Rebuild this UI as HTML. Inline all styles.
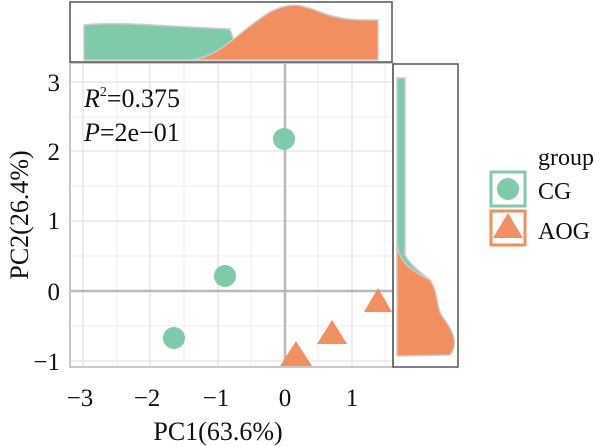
<!DOCTYPE html>
<html><head><meta charset="utf-8"><style>body{margin:0;background:#fff}svg{display:block}text{font-family:"Liberation Serif",serif;fill:#111}</style></head><body>
<svg width="609" height="446" viewBox="0 0 609 446">
<g stroke="#ececf2" stroke-width="1">
<line x1="117" y1="63" x2="117" y2="367"/><line x1="184" y1="63" x2="184" y2="367"/><line x1="251" y1="63" x2="251" y2="367"/><line x1="318" y1="63" x2="318" y2="367"/><line x1="385" y1="63" x2="385" y2="367"/>
<line x1="70" y1="117" x2="393" y2="117"/><line x1="70" y1="186" x2="393" y2="186"/><line x1="70" y1="256" x2="393" y2="256"/><line x1="70" y1="326" x2="393" y2="326"/>
</g>
<g stroke="#e2e2e8" stroke-width="1.3">
<line x1="83" y1="63" x2="83" y2="367"/><line x1="150" y1="63" x2="150" y2="367"/><line x1="218" y1="63" x2="218" y2="367"/><line x1="352" y1="63" x2="352" y2="367"/>
<line x1="70" y1="82" x2="393" y2="82"/><line x1="70" y1="151" x2="393" y2="151"/><line x1="70" y1="221" x2="393" y2="221"/><line x1="70" y1="361" x2="393" y2="361"/>
</g>
<line x1="285" y1="63" x2="285" y2="367" stroke="#b8b8b8" stroke-width="2.5"/>
<line x1="70" y1="291" x2="393" y2="291" stroke="#b8b8b8" stroke-width="2.5"/>
<rect x="70" y="63" width="323" height="304" fill="none" stroke="#c8c8c8" stroke-width="2"/>
<g fill="#7fcaa9"><circle cx="284" cy="139" r="11"/><circle cx="225" cy="276" r="11"/><circle cx="174" cy="338" r="11"/></g>
<g fill="#f28f60"><polygon points="296,341 312,366 280,366"/><polygon points="332,320 347,344 317,344"/><polygon points="378,288 392,312 364,312"/></g>
<text x="84" y="107" font-size="26"><tspan font-style="italic">R</tspan><tspan font-size="14" dy="-11">2</tspan><tspan dy="11">=0.375</tspan></text>
<text x="84" y="141" font-size="26"><tspan font-style="italic">P</tspan>=2e−01</text>
<g font-size="25" text-anchor="end"><text x="60" y="91">3</text><text x="60" y="160">2</text><text x="60" y="229">1</text><text x="60" y="300">0</text><text x="60" y="370">−1</text></g>
<g font-size="25" text-anchor="middle"><text x="80" y="406">−3</text><text x="147" y="406">−2</text><text x="216" y="406">−1</text><text x="285" y="406">0</text><text x="352" y="406">1</text></g>
<text x="218" y="440" font-size="26" text-anchor="middle">PC1(63.6%)</text>
<text transform="translate(28,215) rotate(-90)" font-size="26" text-anchor="middle">PC2(26.4%)</text>
<path d="M84,60 L84,25 C120,21 170,27 230,29 L240,60 Z" fill="#7fcaa9" stroke="#ccc" stroke-width="1.5"/>
<path d="M190,60 C220,58 240,30 270,12 C290,2 300,4 320,12 C340,20 355,20 378,20 L378,60 Z" fill="#f28f60" stroke="#ccc" stroke-width="1.5"/>
<rect x="70" y="2" width="322" height="60" fill="none" stroke="#555" stroke-width="1.5"/>
<path d="M397,78 L405,78 L405,255 C410,265 420,272 430,280 L397,280 Z" fill="#7fcaa9" stroke="#ccc" stroke-width="1.5"/>
<path d="M397,245 C400,265 415,272 430,280 C440,295 435,310 445,320 C455,335 458,345 450,355 L397,356 Z" fill="#f28f60" stroke="#ccc" stroke-width="1.5"/>
<rect x="393" y="64" width="65" height="303" fill="none" stroke="#555" stroke-width="1.5"/>
<rect x="491" y="172" width="34" height="34" fill="#fff" stroke="#7fcaa9" stroke-width="3"/>
<circle cx="508" cy="189" r="11" fill="#7fcaa9"/>
<rect x="491" y="211" width="34" height="34" fill="#fff" stroke="#f28f60" stroke-width="3"/>
<polygon points="508,213 523,238 493,238" fill="#f28f60"/>
<text x="538" y="165" font-size="24">group</text>
<text x="538" y="199" font-size="24">CG</text>
<text x="538" y="239" font-size="24">AOG</text>
</svg>
</body></html>
